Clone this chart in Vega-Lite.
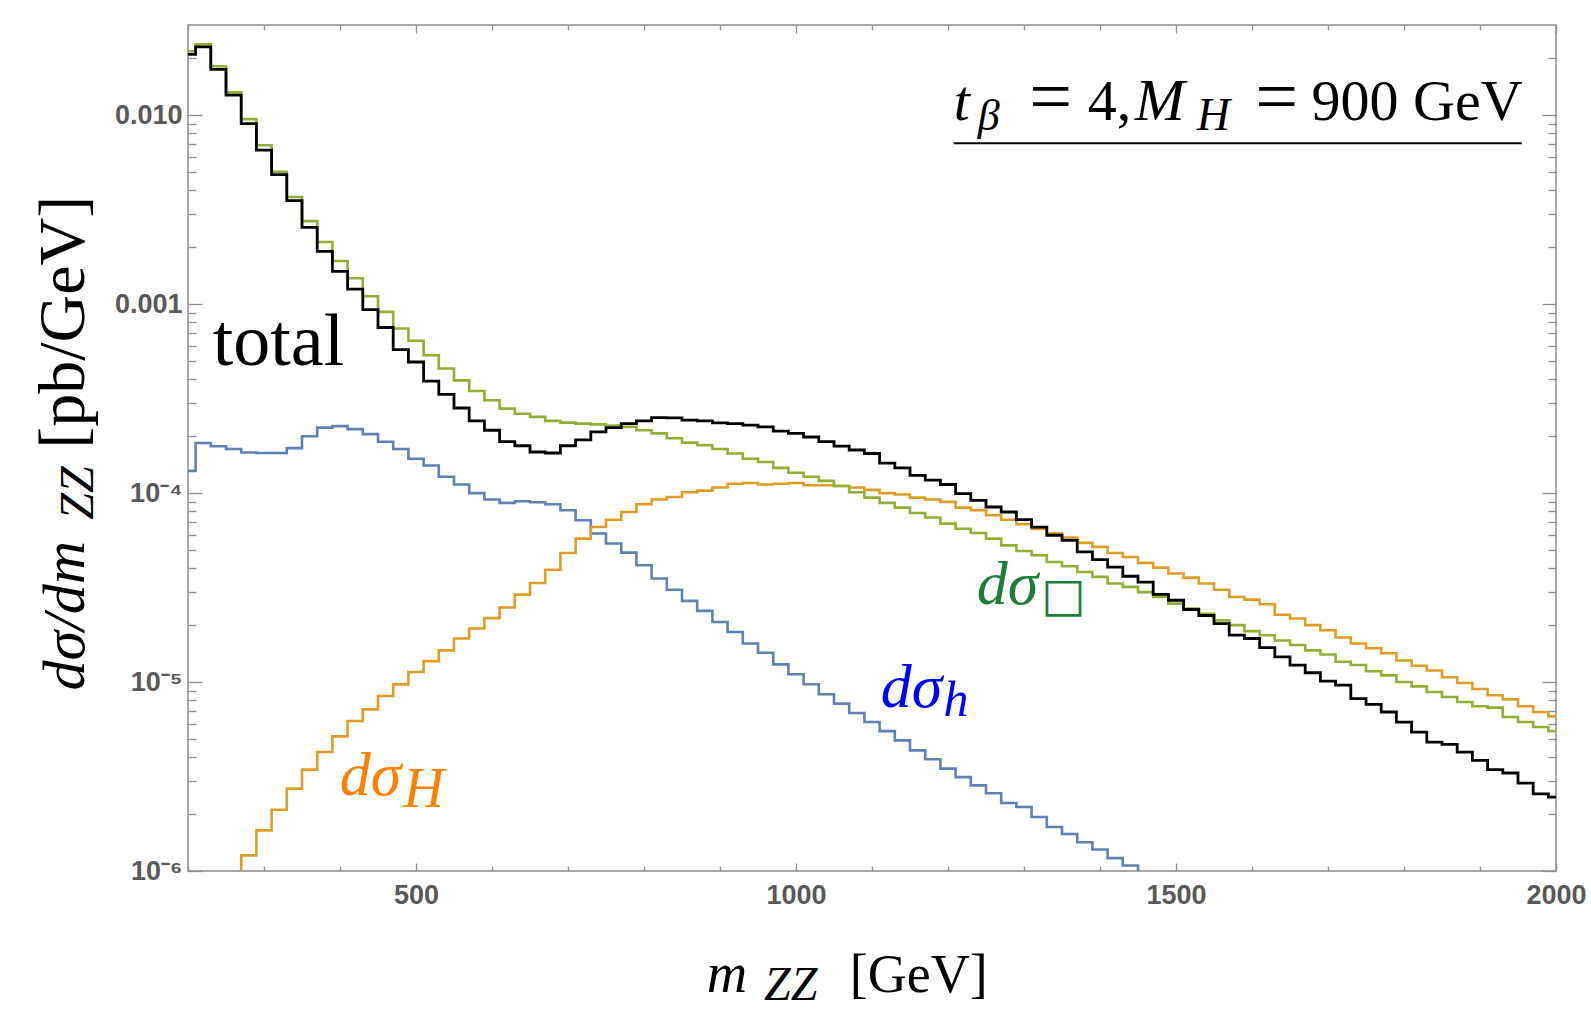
{
  "$schema": "https://vega.github.io/schema/vega-lite/v6.json",
  "width": 1368,
  "height": 846,
  "autosize": {"type": "none"},
  "padding": {"left": 188, "top": 25, "right": 35, "bottom": 146},
  "background": "#ffffff",
  "data": {"values": [{}]},
  "config": {
    "view": {"stroke": "#8c8c8c", "strokeWidth": 1.5},
    "axis": {"domain": false, "grid": false, "tickColor": "#8c8c8c", "tickWidth": 1.3, "labelFont": "Liberation Sans", "labelFontWeight": "bold", "labelColor": "#585858", "labelFontSize": 27}
  },
  "datasets": {
    "total": [
      {"m":200,"v":2.096e-2},{"m":220,"v":2.30e-2},{"m":240,"v":1.746e-2},{"m":260,"v":1.276e-2},{"m":280,"v":9.03e-3},{"m":300,"v":6.53e-3},{"m":320,"v":4.85e-3},{"m":340,"v":3.53e-3},{"m":360,"v":2.55e-3},{"m":380,"v":1.9e-3},
      {"m":400,"v":1.49e-3},{"m":420,"v":1.2e-3},{"m":440,"v":9.36e-4},{"m":460,"v":7.52e-4},{"m":480,"v":5.75e-4},{"m":500,"v":4.94e-4},{"m":520,"v":3.91e-4},{"m":540,"v":3.33e-4},{"m":560,"v":2.82e-4},{"m":580,"v":2.41e-4},
      {"m":600,"v":2.15e-4},{"m":620,"v":1.87e-4},{"m":640,"v":1.78e-4},{"m":660,"v":1.65e-4},{"m":680,"v":1.63e-4},{"m":700,"v":1.78e-4},{"m":720,"v":1.91e-4},{"m":740,"v":2.11e-4},{"m":760,"v":2.22e-4},{"m":780,"v":2.33e-4},
      {"m":800,"v":2.41e-4},{"m":820,"v":2.51e-4},{"m":840,"v":2.50e-4},{"m":860,"v":2.43e-4},{"m":880,"v":2.41e-4},{"m":900,"v":2.35e-4},{"m":920,"v":2.33e-4},{"m":940,"v":2.29e-4},{"m":960,"v":2.24e-4},{"m":980,"v":2.13e-4},
      {"m":1000,"v":2.07e-4},{"m":1020,"v":1.98e-4},{"m":1040,"v":1.87e-4},{"m":1060,"v":1.77e-4},{"m":1080,"v":1.69e-4},{"m":1100,"v":1.62e-4},{"m":1120,"v":1.44e-4},{"m":1140,"v":1.36e-4},{"m":1160,"v":1.24e-4},{"m":1180,"v":1.17e-4},
      {"m":1200,"v":1.11e-4},{"m":1220,"v":9.94e-5},{"m":1240,"v":9.16e-5},{"m":1260,"v":8.44e-5},{"m":1280,"v":7.94e-5},{"m":1300,"v":7.23e-5},{"m":1320,"v":6.61e-5},{"m":1340,"v":5.98e-5},{"m":1360,"v":5.62e-5},{"m":1380,"v":4.88e-5},
      {"m":1400,"v":4.44e-5},{"m":1420,"v":4.06e-5},{"m":1440,"v":3.63e-5},{"m":1460,"v":3.38e-5},{"m":1480,"v":2.91e-5},{"m":1500,"v":2.71e-5},{"m":1520,"v":2.42e-5},{"m":1540,"v":2.25e-5},{"m":1560,"v":2.04e-5},{"m":1580,"v":1.77e-5},
      {"m":1600,"v":1.70e-5},{"m":1620,"v":1.52e-5},{"m":1640,"v":1.36e-5},{"m":1660,"v":1.23e-5},{"m":1680,"v":1.12e-5},{"m":1700,"v":1.01e-5},{"m":1720,"v":9.64e-6},{"m":1740,"v":8.17e-6},{"m":1760,"v":7.62e-6},{"m":1780,"v":6.94e-6},
      {"m":1800,"v":6.14e-6},{"m":1820,"v":5.43e-6},{"m":1840,"v":4.81e-6},{"m":1860,"v":4.68e-6},{"m":1880,"v":4.26e-6},{"m":1900,"v":3.85e-6},{"m":1920,"v":3.44e-6},{"m":1940,"v":3.30e-6},{"m":1960,"v":2.92e-6},{"m":1980,"v":2.56e-6},
      {"m":2000,"v":2.46e-6}
    ],
    "box": [
      {"m":200,"v":2.18e-2},{"m":220,"v":2.37e-2},{"m":240,"v":1.815e-2},{"m":260,"v":1.32e-2},{"m":280,"v":9.53e-3},{"m":300,"v":6.93e-3},{"m":320,"v":5.01e-3},{"m":340,"v":3.69e-3},{"m":360,"v":2.75e-3},{"m":380,"v":2.13e-3},
      {"m":400,"v":1.69e-3},{"m":420,"v":1.37e-3},{"m":440,"v":1.10e-3},{"m":460,"v":9.1e-4},{"m":480,"v":7.43e-4},{"m":500,"v":6.4e-4},{"m":520,"v":5.36e-4},{"m":540,"v":4.56e-4},{"m":560,"v":3.95e-4},{"m":580,"v":3.47e-4},
      {"m":600,"v":3.10e-4},{"m":620,"v":2.80e-4},{"m":640,"v":2.63e-4},{"m":660,"v":2.53e-4},{"m":680,"v":2.41e-4},{"m":700,"v":2.36e-4},{"m":720,"v":2.33e-4},{"m":740,"v":2.31e-4},{"m":760,"v":2.28e-4},{"m":780,"v":2.24e-4},
      {"m":800,"v":2.15e-4},{"m":820,"v":2.07e-4},{"m":840,"v":1.95e-4},{"m":860,"v":1.85e-4},{"m":880,"v":1.79e-4},{"m":900,"v":1.71e-4},{"m":920,"v":1.62e-4},{"m":940,"v":1.52e-4},{"m":960,"v":1.46e-4},{"m":980,"v":1.36e-4},
      {"m":1000,"v":1.28e-4},{"m":1020,"v":1.22e-4},{"m":1040,"v":1.16e-4},{"m":1060,"v":1.09e-4},{"m":1080,"v":1.01e-4},{"m":1100,"v":9.46e-5},{"m":1120,"v":8.87e-5},{"m":1140,"v":8.38e-5},{"m":1160,"v":7.85e-5},{"m":1180,"v":7.42e-5},
      {"m":1200,"v":6.89e-5},{"m":1220,"v":6.48e-5},{"m":1240,"v":6.15e-5},{"m":1260,"v":5.74e-5},{"m":1280,"v":5.29e-5},{"m":1300,"v":4.94e-5},{"m":1320,"v":4.69e-5},{"m":1340,"v":4.32e-5},{"m":1360,"v":4.10e-5},{"m":1380,"v":3.82e-5},
      {"m":1400,"v":3.60e-5},{"m":1420,"v":3.32e-5},{"m":1440,"v":3.19e-5},{"m":1460,"v":2.99e-5},{"m":1480,"v":2.82e-5},{"m":1500,"v":2.60e-5},{"m":1520,"v":2.45e-5},{"m":1540,"v":2.30e-5},{"m":1560,"v":2.12e-5},{"m":1580,"v":2.00e-5},
      {"m":1600,"v":1.86e-5},{"m":1620,"v":1.77e-5},{"m":1640,"v":1.66e-5},{"m":1660,"v":1.57e-5},{"m":1680,"v":1.47e-5},{"m":1700,"v":1.40e-5},{"m":1720,"v":1.28e-5},{"m":1740,"v":1.23e-5},{"m":1760,"v":1.14e-5},{"m":1780,"v":1.085e-5},
      {"m":1800,"v":1.00e-5},{"m":1820,"v":9.49e-6},{"m":1840,"v":8.85e-6},{"m":1860,"v":8.33e-6},{"m":1880,"v":7.84e-6},{"m":1900,"v":7.44e-6},{"m":1920,"v":7.32e-6},{"m":1940,"v":6.53e-6},{"m":1960,"v":6.14e-6},{"m":1980,"v":5.78e-6},
      {"m":2000,"v":5.50e-6}
    ],
    "h": [
      {"m":200,"v":1.31e-4},{"m":220,"v":1.84e-4},{"m":240,"v":1.77e-4},{"m":260,"v":1.71e-4},{"m":280,"v":1.64e-4},{"m":300,"v":1.63e-4},{"m":320,"v":1.63e-4},{"m":340,"v":1.73e-4},{"m":360,"v":2.0e-4},{"m":380,"v":2.22e-4},
      {"m":400,"v":2.26e-4},{"m":420,"v":2.18e-4},{"m":440,"v":2.05e-4},{"m":460,"v":1.87e-4},{"m":480,"v":1.71e-4},{"m":500,"v":1.52e-4},{"m":520,"v":1.40e-4},{"m":540,"v":1.22e-4},{"m":560,"v":1.11e-4},{"m":580,"v":1.0e-4},
      {"m":600,"v":9.24e-5},{"m":620,"v":8.87e-5},{"m":640,"v":9.05e-5},{"m":660,"v":8.94e-5},{"m":680,"v":8.73e-5},{"m":700,"v":8.11e-5},{"m":720,"v":7.18e-5},{"m":740,"v":6.11e-5},{"m":760,"v":5.41e-5},{"m":780,"v":4.84e-5},
      {"m":800,"v":4.15e-5},{"m":820,"v":3.53e-5},{"m":840,"v":3.08e-5},{"m":860,"v":2.69e-5},{"m":880,"v":2.38e-5},{"m":900,"v":2.08e-5},{"m":920,"v":1.84e-5},{"m":940,"v":1.60e-5},{"m":960,"v":1.43e-5},{"m":980,"v":1.24e-5},
      {"m":1000,"v":1.10e-5},{"m":1020,"v":9.73e-6},{"m":1040,"v":8.61e-6},{"m":1060,"v":7.69e-6},{"m":1080,"v":6.86e-6},{"m":1100,"v":6.14e-6},{"m":1120,"v":5.50e-6},{"m":1140,"v":4.91e-6},{"m":1160,"v":4.35e-6},{"m":1180,"v":3.90e-6},
      {"m":1200,"v":3.48e-6},{"m":1220,"v":3.14e-6},{"m":1240,"v":2.84e-6},{"m":1260,"v":2.58e-6},{"m":1280,"v":2.29e-6},{"m":1300,"v":2.18e-6},{"m":1320,"v":1.93e-6},{"m":1340,"v":1.71e-6},{"m":1360,"v":1.57e-6},{"m":1380,"v":1.42e-6},
      {"m":1400,"v":1.30e-6},{"m":1420,"v":1.17e-6},{"m":1440,"v":1.07e-6},{"m":1460,"v":9.0e-7}
    ],
    "H": [
      {"m":260,"v":9.0e-7},{"m":280,"v":1.21e-6},{"m":300,"v":1.64e-6},{"m":320,"v":2.11e-6},{"m":340,"v":2.73e-6},{"m":360,"v":3.44e-6},{"m":380,"v":4.26e-6},
      {"m":400,"v":5.16e-6},{"m":420,"v":6.22e-6},{"m":440,"v":7.17e-6},{"m":460,"v":8.43e-6},{"m":480,"v":9.72e-6},{"m":500,"v":1.13e-5},{"m":520,"v":1.29e-5},{"m":540,"v":1.47e-5},{"m":560,"v":1.70e-5},{"m":580,"v":1.92e-5},
      {"m":600,"v":2.18e-5},{"m":620,"v":2.48e-5},{"m":640,"v":2.90e-5},{"m":660,"v":3.34e-5},{"m":680,"v":3.93e-5},{"m":700,"v":4.82e-5},{"m":720,"v":5.74e-5},{"m":740,"v":6.61e-5},{"m":760,"v":7.23e-5},{"m":780,"v":7.94e-5},
      {"m":800,"v":8.73e-5},{"m":820,"v":9.24e-5},{"m":840,"v":9.54e-5},{"m":860,"v":1.01e-4},{"m":880,"v":1.03e-4},{"m":900,"v":1.07e-4},{"m":920,"v":1.12e-4},{"m":940,"v":1.13e-4},{"m":960,"v":1.11e-4},{"m":980,"v":1.12e-4},
      {"m":1000,"v":1.13e-4},{"m":1020,"v":1.10e-4},{"m":1040,"v":1.10e-4},{"m":1060,"v":1.09e-4},{"m":1080,"v":1.07e-4},{"m":1100,"v":1.04e-4},{"m":1120,"v":1.0e-4},{"m":1140,"v":9.82e-5},{"m":1160,"v":9.46e-5},{"m":1180,"v":9.24e-5},
      {"m":1200,"v":8.98e-5},{"m":1220,"v":8.38e-5},{"m":1240,"v":8.11e-5},{"m":1260,"v":7.63e-5},{"m":1280,"v":7.23e-5},{"m":1300,"v":6.84e-5},{"m":1320,"v":6.45e-5},{"m":1340,"v":6.10e-5},{"m":1360,"v":5.81e-5},{"m":1380,"v":5.45e-5},
      {"m":1400,"v":5.19e-5},{"m":1420,"v":4.82e-5},{"m":1440,"v":4.59e-5},{"m":1460,"v":4.27e-5},{"m":1480,"v":4.03e-5},{"m":1500,"v":3.75e-5},{"m":1520,"v":3.57e-5},{"m":1540,"v":3.32e-5},{"m":1560,"v":3.08e-5},{"m":1580,"v":2.82e-5},
      {"m":1600,"v":2.73e-5},{"m":1620,"v":2.58e-5},{"m":1640,"v":2.27e-5},{"m":1660,"v":2.17e-5},{"m":1680,"v":2.00e-5},{"m":1700,"v":1.88e-5},{"m":1720,"v":1.72e-5},{"m":1740,"v":1.60e-5},{"m":1760,"v":1.51e-5},{"m":1780,"v":1.42e-5},
      {"m":1800,"v":1.30e-5},{"m":1820,"v":1.22e-5},{"m":1840,"v":1.15e-5},{"m":1860,"v":1.06e-5},{"m":1880,"v":9.88e-6},{"m":1900,"v":9.18e-6},{"m":1920,"v":8.51e-6},{"m":1940,"v":8.10e-6},{"m":1960,"v":7.44e-6},{"m":1980,"v":6.94e-6},
      {"m":2000,"v":6.58e-6}
    ]
  },
  "layer": [
    {
      "data": {"name": "h"},
      "mark": {"type": "line", "interpolate": "step", "clip": true, "color": "#5e81b5", "strokeWidth": 2.6},
      "encoding": {
        "x": {"field": "m", "type": "quantitative", "scale": {"domain": [200, 2000], "nice": false, "zero": false},
          "axis": {"orient": "bottom", "title": null, "values": [200,300,400,500,600,700,800,900,1000,1100,1200,1300,1400,1500,1600,1700,1800,1900,2000], "format": "d",
            "labelExpr": "datum.value % 500 == 0 ? datum.label : ''", "labelFlush": false, "labelOverlap": false, "labelBaseline": "top", "labelPadding": 19,
            "tickSize": {"condition": {"test": "datum.value % 500 == 0", "value": -8}, "value": -5}}},
        "y": {"field": "v", "type": "quantitative", "scale": {"type": "log", "domain": [0.000001, 0.03], "nice": false},
          "axis": {"orient": "left", "title": null,
            "values": [0.000001,0.000002,0.000003,0.000004,0.000005,0.000006,0.000007,0.000008,0.000009,0.00001,0.00002,0.00003,0.00004,0.00005,0.00006,0.00007,0.00008,0.00009,0.0001,0.0002,0.0003,0.0004,0.0005,0.0006,0.0007,0.0008,0.0009,0.001,0.002,0.003,0.004,0.005,0.006,0.007,0.008,0.009,0.01,0.02],
            "labelExpr": "datum.value == 0.01 ? '0.010' : datum.value == 0.001 ? '0.001' : datum.value == 0.0001 ? '10⁻⁴' : datum.value == 0.00001 ? '10⁻⁵' : datum.value == 0.000001 ? '10⁻⁶' : ''",
            "labelOverlap": false, "labelPadding": 20, "labelBaseline": "middle",
            "tickSize": {"condition": {"test": "indexof([0.000001,0.00001,0.0001,0.001,0.01], datum.value) >= 0", "value": -14}, "value": -8}}}
      }
    },
    {
      "data": {"name": "H"},
      "mark": {"type": "line", "interpolate": "step", "clip": true, "color": "#e19c24", "strokeWidth": 2.6},
      "encoding": {
        "x": {"field": "m", "type": "quantitative", "scale": {"domain": [200, 2000], "nice": false, "zero": false},
          "axis": {"orient": "top", "title": null, "labels": false, "values": [200,300,400,500,600,700,800,900,1000,1100,1200,1300,1400,1500,1600,1700,1800,1900,2000],
            "tickSize": {"condition": {"test": "datum.value % 500 == 0", "value": -8}, "value": -5}}},
        "y": {"field": "v", "type": "quantitative", "scale": {"type": "log", "domain": [0.000001, 0.03], "nice": false},
          "axis": {"orient": "right", "title": null, "labels": false,
            "values": [0.000001,0.000002,0.000003,0.000004,0.000005,0.000006,0.000007,0.000008,0.000009,0.00001,0.00002,0.00003,0.00004,0.00005,0.00006,0.00007,0.00008,0.00009,0.0001,0.0002,0.0003,0.0004,0.0005,0.0006,0.0007,0.0008,0.0009,0.001,0.002,0.003,0.004,0.005,0.006,0.007,0.008,0.009,0.01,0.02],
            "tickSize": {"condition": {"test": "indexof([0.000001,0.00001,0.0001,0.001,0.01], datum.value) >= 0", "value": -14}, "value": -8}}}
      }
    },
    {
      "data": {"name": "box"},
      "mark": {"type": "line", "interpolate": "step", "clip": true, "color": "#8fb032", "strokeWidth": 2.6},
      "encoding": {
        "x": {"field": "m", "type": "quantitative", "scale": {"domain": [200, 2000], "nice": false, "zero": false}, "axis": null},
        "y": {"field": "v", "type": "quantitative", "scale": {"type": "log", "domain": [0.000001, 0.03], "nice": false}, "axis": null}
      }
    },
    {
      "data": {"name": "total"},
      "mark": {"type": "line", "interpolate": "step", "clip": true, "color": "#000000", "strokeWidth": 2.8},
      "encoding": {
        "x": {"field": "m", "type": "quantitative", "scale": {"domain": [200, 2000], "nice": false, "zero": false}, "axis": null},
        "y": {"field": "v", "type": "quantitative", "scale": {"type": "log", "domain": [0.000001, 0.03], "nice": false}, "axis": null}
      }
    },
    {
      "mark": {"type": "text", "text": "total", "font": "Liberation Serif", "fontSize": 74, "align": "left", "baseline": "alphabetic", "color": "#000000"},
      "encoding": {"x": {"datum": 232.5, "type": "quantitative", "axis": null}, "y": {"datum": 0.000475, "type": "quantitative", "axis": null}}
    },
    {
      "mark": {"type": "text", "text": "dσ", "font": "Liberation Serif", "fontStyle": "italic", "fontSize": 62, "align": "left", "baseline": "alphabetic", "color": "#0000ff"},
      "encoding": {"x": {"datum": 1111.4, "type": "quantitative", "axis": null}, "y": {"datum": 0.00000735, "type": "quantitative", "axis": null}}
    },
    {
      "mark": {"type": "text", "text": "h", "font": "Liberation Serif", "fontStyle": "italic", "fontSize": 50, "align": "left", "baseline": "alphabetic", "color": "#0000ff"},
      "encoding": {"x": {"datum": 1194, "type": "quantitative", "axis": null}, "y": {"datum": 0.00000664, "type": "quantitative", "axis": null}}
    },
    {
      "mark": {"type": "text", "text": "dσ", "font": "Liberation Serif", "fontStyle": "italic", "fontSize": 62, "align": "left", "baseline": "alphabetic", "color": "#ff8000"},
      "encoding": {"x": {"datum": 399.6, "type": "quantitative", "axis": null}, "y": {"datum": 0.00000251, "type": "quantitative", "axis": null}}
    },
    {
      "mark": {"type": "text", "text": "H", "font": "Liberation Serif", "fontStyle": "italic", "fontSize": 56, "align": "left", "baseline": "alphabetic", "color": "#ff8000"},
      "encoding": {"x": {"datum": 483.6, "type": "quantitative", "axis": null}, "y": {"datum": 0.00000218, "type": "quantitative", "axis": null}}
    },
    {
      "mark": {"type": "text", "text": "dσ", "font": "Liberation Serif", "fontStyle": "italic", "fontSize": 62, "align": "left", "baseline": "alphabetic", "color": "#1b7f3b"},
      "encoding": {"x": {"datum": 1237.8, "type": "quantitative", "axis": null}, "y": {"datum": 0.000026, "type": "quantitative", "axis": null}}
    },
    {
      "mark": {"type": "text", "text": "□", "font": "DejaVu Sans", "fontSize": 47, "align": "left", "baseline": "alphabetic", "color": "#1b7f3b"},
      "encoding": {"x": {"datum": 1322.7, "type": "quantitative", "axis": null}, "y": {"datum": 0.00002384, "type": "quantitative", "axis": null}}
    },
    {
      "mark": {"type": "text", "text": "t", "font": "Liberation Serif", "fontStyle": "italic", "fontSize": 58, "align": "left", "baseline": "alphabetic", "color": "#000000"},
      "encoding": {"x": {"datum": 1207.5, "type": "quantitative", "axis": null}, "y": {"datum": 0.009409, "type": "quantitative", "axis": null}}
    },
    {
      "mark": {"type": "text", "text": "β", "font": "Liberation Serif", "fontStyle": "italic", "fontSize": 44, "align": "left", "baseline": "alphabetic", "color": "#000000"},
      "encoding": {"x": {"datum": 1239, "type": "quantitative", "axis": null}, "y": {"datum": 0.00833, "type": "quantitative", "axis": null}}
    },
    {
      "mark": {"type": "text", "text": "=", "font": "Liberation Serif", "fontSize": 76, "align": "center", "baseline": "alphabetic", "color": "#000000"},
      "encoding": {"x": {"datum": 1335.1, "type": "quantitative", "axis": null}, "y": {"datum": 0.009238, "type": "quantitative", "axis": null}}
    },
    {
      "mark": {"type": "text", "text": "4,", "font": "Liberation Serif", "fontSize": 58, "align": "left", "baseline": "alphabetic", "color": "#000000"},
      "encoding": {"x": {"datum": 1384.0, "type": "quantitative", "axis": null}, "y": {"datum": 0.009409, "type": "quantitative", "axis": null}}
    },
    {
      "mark": {"type": "text", "text": "M", "font": "Liberation Serif", "fontStyle": "italic", "fontSize": 60, "align": "left", "baseline": "alphabetic", "color": "#000000"},
      "encoding": {"x": {"datum": 1445.7, "type": "quantitative", "axis": null}, "y": {"datum": 0.009409, "type": "quantitative", "axis": null}}
    },
    {
      "mark": {"type": "text", "text": "H", "font": "Liberation Serif", "fontStyle": "italic", "fontSize": 46, "align": "left", "baseline": "alphabetic", "color": "#000000"},
      "encoding": {"x": {"datum": 1527.2, "type": "quantitative", "axis": null}, "y": {"datum": 0.00833, "type": "quantitative", "axis": null}}
    },
    {
      "mark": {"type": "text", "text": "=", "font": "Liberation Serif", "fontSize": 76, "align": "center", "baseline": "alphabetic", "color": "#000000"},
      "encoding": {"x": {"datum": 1632.5, "type": "quantitative", "axis": null}, "y": {"datum": 0.009238, "type": "quantitative", "axis": null}}
    },
    {
      "mark": {"type": "text", "text": "900 GeV", "font": "Liberation Serif", "fontSize": 58, "align": "right", "baseline": "alphabetic", "color": "#000000"},
      "encoding": {"x": {"datum": 1956, "type": "quantitative", "axis": null}, "y": {"datum": 0.009409, "type": "quantitative", "axis": null}}
    },
    {
      "mark": {"type": "rule", "color": "#000000", "strokeWidth": 2},
      "encoding": {"x": {"datum": 1207.5, "type": "quantitative", "axis": null}, "x2": {"datum": 1955}, "y": {"datum": 0.007107, "type": "quantitative", "axis": null}}
    },
    {
      "mark": {"type": "text", "text": "m", "font": "Liberation Serif", "fontStyle": "italic", "fontSize": 56, "align": "left", "baseline": "alphabetic", "color": "#000000"},
      "encoding": {"x": {"datum": 882.5, "type": "quantitative", "axis": null}, "y": {"datum": 0.0000002277, "type": "quantitative", "axis": null}}
    },
    {
      "mark": {"type": "text", "text": "ZZ", "font": "Liberation Serif", "fontStyle": "italic", "fontSize": 48, "align": "left", "baseline": "alphabetic", "color": "#000000"},
      "encoding": {"x": {"datum": 958, "type": "quantitative", "axis": null}, "y": {"datum": 0.0000002078, "type": "quantitative", "axis": null}}
    },
    {
      "mark": {"type": "text", "text": "[GeV]", "font": "Liberation Serif", "fontSize": 54, "align": "left", "baseline": "alphabetic", "color": "#000000"},
      "encoding": {"x": {"datum": 1070.7, "type": "quantitative", "axis": null}, "y": {"datum": 0.0000002277, "type": "quantitative", "axis": null}}
    },
    {
      "mark": {"type": "text", "text": "dσ/dm", "font": "Liberation Serif", "fontStyle": "italic", "fontSize": 60, "align": "left", "baseline": "alphabetic", "angle": 270, "color": "#000000"},
      "encoding": {"x": {"datum": 63.4, "type": "quantitative", "axis": null}, "y": {"datum": 0.00000903, "type": "quantitative", "axis": null}}
    },
    {
      "mark": {"type": "text", "text": "ZZ", "font": "Liberation Serif", "fontStyle": "italic", "fontSize": 48, "align": "left", "baseline": "alphabetic", "angle": 270, "color": "#000000"},
      "encoding": {"x": {"datum": 74.6, "type": "quantitative", "axis": null}, "y": {"datum": 0.0000722, "type": "quantitative", "axis": null}}
    },
    {
      "mark": {"type": "text", "text": "[pb/GeV]", "font": "Liberation Serif", "fontSize": 66, "align": "left", "baseline": "alphabetic", "angle": 270, "color": "#000000"},
      "encoding": {"x": {"datum": 63.4, "type": "quantitative", "axis": null}, "y": {"datum": 0.0001716, "type": "quantitative", "axis": null}}
    }
  ],
  "resolve": {"axis": {"x": "independent", "y": "independent"}}
}
